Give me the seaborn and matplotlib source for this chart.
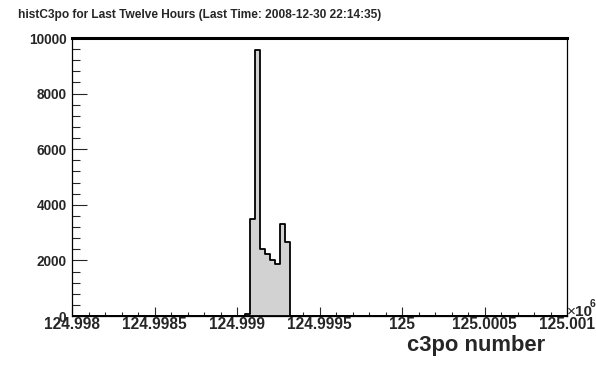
import matplotlib
matplotlib.use('Agg')
import matplotlib.pyplot as plt
from matplotlib.ticker import MultipleLocator, FuncFormatter
import pandas as pd
import seaborn as sns

## histogram settings (100 bins of 30 over 124.998e6 .. 125.001e6)
x_lo = 124998000
x_hi = 125001000
bin_width = 30

## filled bins (bin centre, entries)
bin_centers = [124999065, 124999095, 124999125, 124999155, 124999185,
               124999215, 124999245, 124999275, 124999305]
bin_counts = [60, 3480, 9580, 2400, 2220, 2015, 1860, 3300, 2670]

title = 'histC3po for Last Twelve Hours (Last Time: 2008-12-30 22:14:35)'
x_title = 'c3po number'

df = pd.DataFrame({'c3po': bin_centers, 'n': bin_counts})

sns.set_style('white')
plt.rcParams['font.family'] = ['Liberation Sans', 'DejaVu Sans']

fig = plt.figure(figsize=(5.96, 3.72), dpi=100)
ax = fig.add_axes([72/596, 56/372, 495/596, 278/372])

sns.histplot(data=df, x='c3po', weights='n', binwidth=bin_width,
             binrange=(x_lo, x_hi), element='step', fill=True,
             color='#d2d2d2', alpha=1, edgecolor='black', linewidth=1.3, ax=ax)

ax.set_xlim(x_lo, x_hi)
ax.set_ylim(0, 10000)
ax.set_xlabel('')
ax.set_ylabel('')

ax.xaxis.set_major_locator(MultipleLocator(500))
ax.xaxis.set_minor_locator(MultipleLocator(100))
ax.yaxis.set_major_locator(MultipleLocator(2000))
ax.yaxis.set_minor_locator(MultipleLocator(400))
ax.xaxis.set_major_formatter(FuncFormatter(lambda v, p: '{:.7g}'.format(v / 1e6)))

ax.tick_params(axis='x', which='major', direction='in', length=6.5, width=0.8,
               labelsize=11.2, pad=1, bottom=True, top=False)
ax.tick_params(axis='x', which='minor', direction='in', length=3.2, width=0.8,
               bottom=True, top=False)
ax.tick_params(axis='y', which='major', direction='in', length=10.8, width=0.8,
               labelsize=9.8, pad=4, left=True, right=False)
ax.tick_params(axis='y', which='minor', direction='in', length=5.4, width=0.8,
               left=True, right=False)
for lab in ax.get_xticklabels() + ax.get_yticklabels():
    lab.set_fontweight('bold')

for s in ['left', 'bottom', 'right']:
    ax.spines[s].set_linewidth(0.9)
    ax.spines[s].set_color('black')
ax.spines['top'].set_linewidth(2.2)
ax.spines['top'].set_color('black')

fig.text(18/596, 1 - 15/372, title, fontsize=8.6, fontweight='bold',
         ha='left', va='center')
fig.text(545/596, 1 - 346/372, x_title, fontsize=15.8, fontweight='bold',
         ha='right', va='center')
# axis exponent "x10^6"
fig.text(567/596, 1 - 312/372, '\u00d7', fontsize=11, ha='left', va='center')
fig.text(575/596, 1 - 312/372, '10', fontsize=11, fontweight='bold',
         ha='left', va='center')
fig.text(589.5/596, 1 - 304/372, '6', fontsize=7.5, fontweight='bold',
         ha='left', va='center')

fig.savefig('out.png', dpi=100)
